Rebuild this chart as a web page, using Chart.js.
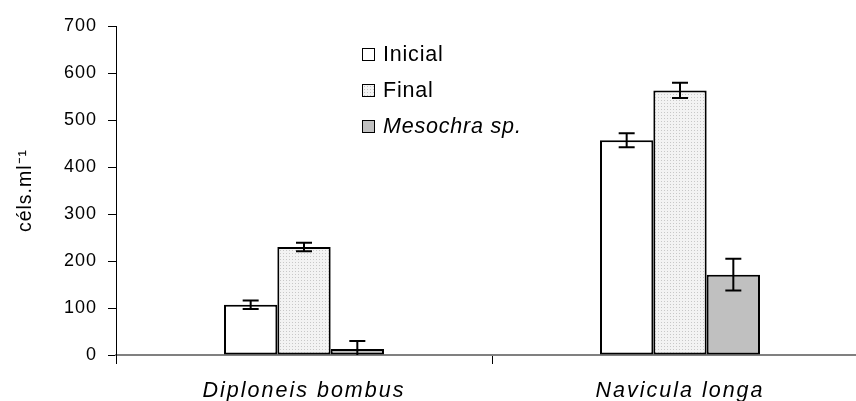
<!DOCTYPE html>
<html lang="es">
<head>
  <meta charset="UTF-8" />
  <title>céls.ml-1 por especie</title>
  <script src="https://cdn.jsdelivr.net/npm/chart.js"></script>
  <style>
    body {
      margin: 0;
      width: 856px;
      height: 401px;
      overflow: hidden;
      background: #fff;
      font-family: "Liberation Sans", Arial, sans-serif;
    }
    .wrap { position: relative; width: 856px; height: 401px; }
    canvas { position: absolute; left: 0; top: 0; }
    .legend {
      position: absolute;
      left: 362px;
      top: 36px;
      font-size: 21.5px;
      letter-spacing: 0.8px;
      color: #000;
    }
    .legend div { height: 36px; display: flex; align-items: center; }
    .sw { width: 11px; height: 11px; border: 1.5px solid #000; margin-right: 8px; }
    .sw.final {
      background-color: #f3f3f3;
      background-image: radial-gradient(#c4c4c4 0.7px, transparent 1px);
      background-size: 3px 3px;
    }
    .sw.meso { background: #c0c0c0; }
  </style>
</head>
<body>
  <div class="wrap">
    <canvas id="chart" width="880" height="401"></canvas>
    <div class="legend">
      <div><span class="sw"></span>Inicial</div>
      <div><span class="sw final"></span>Final</div>
      <div><span class="sw meso"></span><i>Mesochra sp.</i></div>
    </div>
  </div>

  <script>
    const categories = ['Diploneis bombus', 'Navicula longa'];
    const seriesNames = ['Inicial', 'Final', 'Mesochra sp.'];
    const inicial = [107, 457];
    const final = [230, 563];
    const mesochra = [13, 171];
    const inicialErr = [9, 15];
    const finalErr = [9, 16];
    const mesochraErr = [17, 34];
    const yTicks = [0, 100, 200, 300, 400, 500, 600, 700];

    // dotted fill for the "Final" bars
    function dots() {
      const c = document.createElement('canvas');
      c.width = 3; c.height = 3;
      const g = c.getContext('2d');
      g.fillStyle = '#f3f3f3';
      g.fillRect(0, 0, 3, 3);
      g.fillStyle = '#c8c8c8';
      g.fillRect(1, 1, 1, 1);
      return g.createPattern(c, 'repeat');
    }

    const errorBars = {
      id: 'errorBars',
      beforeDraw(chart) {
        chart.ctx.letterSpacing = '1px';
      },
      afterDatasetsDraw(chart) {
        const ctx = chart.ctx;
        const y = chart.scales.y;
        ctx.save();
        ctx.strokeStyle = '#000';
        ctx.lineWidth = 2;
        chart.data.datasets.forEach((ds, i) => {
          chart.getDatasetMeta(i).data.forEach((bar, j) => {
            const v = ds.data[j];
            const e = ds.err[j];
            const lo = Math.max(v - e, 0);
            const yTop = y.getPixelForValue(v + e);
            const yBot = y.getPixelForValue(lo);
            ctx.beginPath();
            ctx.moveTo(bar.x, yTop);
            ctx.lineTo(bar.x, yBot);
            ctx.moveTo(bar.x - 8, yTop);
            ctx.lineTo(bar.x + 8, yTop);
            if (v - e > 0) {
              ctx.moveTo(bar.x - 8, yBot);
              ctx.lineTo(bar.x + 8, yBot);
            }
            ctx.stroke();
          });
        });
        ctx.restore();
        // category names sit on a later layer, spaced a bit wider
        ctx.letterSpacing = '2px';
      },
      afterDraw(chart) {
        chart.ctx.letterSpacing = '0px';
      }
    };

    new Chart(document.getElementById('chart'), {
      type: 'bar',
      data: {
        labels: categories,
        datasets: [
          { label: seriesNames[0], data: inicial, err: inicialErr, backgroundColor: '#ffffff' },
          { label: seriesNames[1], data: final, err: finalErr, backgroundColor: dots() },
          { label: seriesNames[2], data: mesochra, err: mesochraErr, backgroundColor: '#c0c0c0' }
        ]
      },
      options: {
        responsive: false,
        animation: false,
        devicePixelRatio: 1,
        layout: { padding: { top: 26, right: 12, left: 0, bottom: 0 } },
        datasets: {
          bar: {
            borderColor: '#000',
            borderWidth: 2,
            borderSkipped: false,
            barPercentage: 1,
            categoryPercentage: 0.4255
          }
        },
        plugins: {
          legend: { display: false },
          tooltip: { enabled: false }
        },
        scales: {
          x: {
            offset: true,
            grid: { display: true, drawOnChartArea: false, offset: true, tickLength: 9, color: '#000', lineWidth: 1 },
            border: { color: '#808080', width: 2 },
            ticks: {
              color: '#000',
              font: { family: '"Liberation Sans", Arial, sans-serif', size: 21.5, style: 'italic' },
              padding: 14,
              maxRotation: 0,
              autoSkip: false,
              z: 1
            },
            afterFit: (s) => { s.height = 46; }
          },
          y: {
            min: 0,
            max: 700,
            afterBuildTicks: (s) => { s.ticks = yTicks.map(v => ({ value: v })); },
            grid: { display: true, drawOnChartArea: false, tickLength: 8, color: '#000', lineWidth: 1 },
            border: { color: '#000', width: 1 },
            ticks: {
              color: '#000',
              font: { family: '"Liberation Sans", Arial, sans-serif', size: 18 },
              padding: 11
            },
            title: {
              display: true,
              text: 'céls.ml⁻¹',
              color: '#000',
              font: { family: '"Liberation Sans", Arial, sans-serif', size: 19.5 },
              padding: { top: 14, bottom: 0 }
            },
            afterFit: (s) => { s.width = 116; }
          }
        }
      },
      plugins: [errorBars]
    });
  </script>
</body>
</html>
